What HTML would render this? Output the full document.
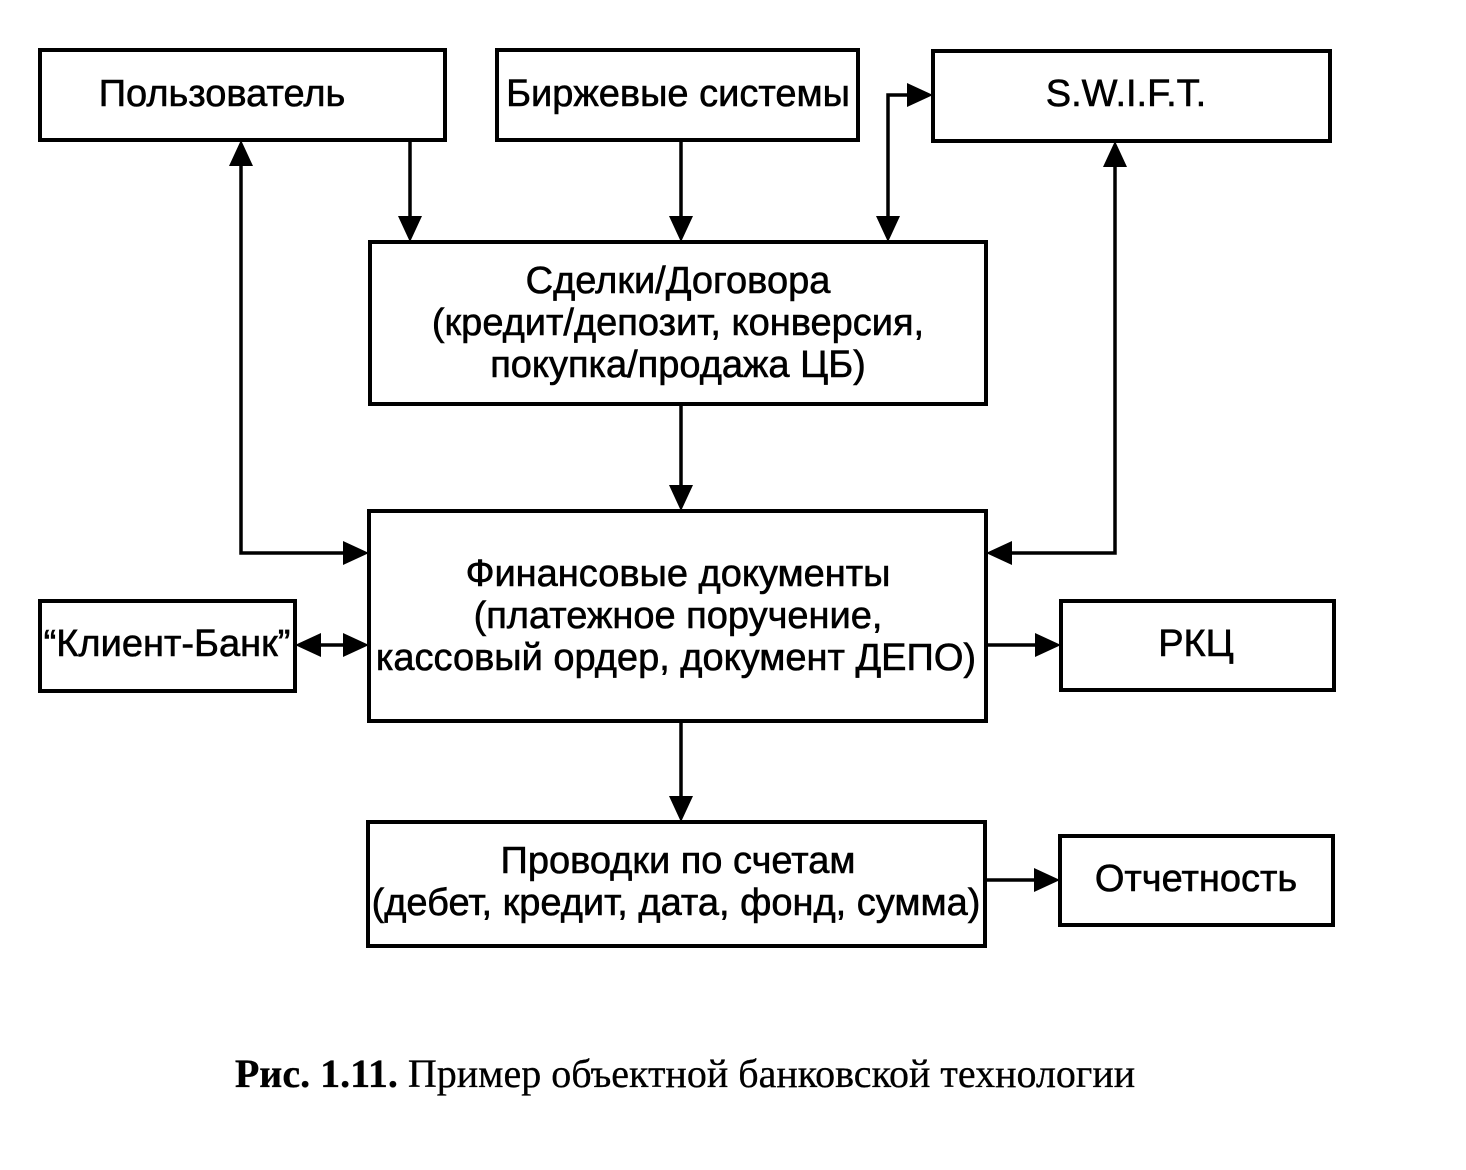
<!DOCTYPE html>
<html><head><meta charset="utf-8"><style>
html,body{margin:0;padding:0;background:#fff;}
body{width:1466px;height:1170px;position:relative;overflow:hidden;}
svg{position:absolute;left:0;top:0;}
text{font-family:"Liberation Sans","DejaVu Sans",sans-serif;font-size:38px;fill:#000;stroke:#000;stroke-width:0.6;}
.cap{font-family:"Liberation Serif",serif;font-size:40px;stroke-width:0.3;}
</style></head><body>
<svg width="1466" height="1170" viewBox="0 0 1466 1170">
<g fill="none" stroke="#000" stroke-width="4">
<rect x="40" y="50" width="405" height="90"/>
<rect x="497" y="50" width="361" height="90"/>
<rect x="933" y="51" width="397" height="90"/>
<rect x="370" y="242" width="616" height="162"/>
<rect x="369" y="511" width="617" height="210"/>
<rect x="40" y="601" width="255" height="90"/>
<rect x="1061" y="601" width="273" height="89"/>
<rect x="368" y="822" width="617" height="124"/>
<rect x="1060" y="836" width="273" height="89"/>
</g>
<g stroke="#000" stroke-width="3.5" fill="none">
<line x1="410" y1="140" x2="410" y2="218"/>
<line x1="681" y1="140" x2="681" y2="218"/>
<polyline points="888,218 888,95 910,95"/>
<polyline points="241,165 241,553 345,553"/>
<polyline points="1115,166 1115,553 1010,553"/>
<line x1="681" y1="404" x2="681" y2="487"/>
<line x1="320" y1="645" x2="345" y2="645"/>
<line x1="986" y1="645" x2="1037" y2="645"/>
<line x1="681" y1="721" x2="681" y2="798"/>
<line x1="985" y1="880" x2="1036" y2="880"/>
</g>
<g fill="#000">
<polygon points="398,216 422,216 410,242"/>
<polygon points="669,216 693,216 681,242"/>
<polygon points="876,216 900,216 888,242"/>
<polygon points="907,83 907,107 933,95"/>
<polygon points="229,166 253,166 241,140"/>
<polygon points="343,541 343,565 369,553"/>
<polygon points="1103,167 1127,167 1115,141"/>
<polygon points="1012,541 1012,565 986,553"/>
<polygon points="669,485 693,485 681,511"/>
<polygon points="343,633 343,657 369,645"/>
<polygon points="321,633 321,657 295,645"/>
<polygon points="1035,633 1035,657 1061,645"/>
<polygon points="669,796 693,796 681,822"/>
<polygon points="1034,868 1034,892 1060,880"/>
</g>
<g text-anchor="middle">
<text x="222" y="106">Пользователь</text>
<text x="678" y="106">Биржевые системы</text>
<text x="1126" y="106">S.W.I.F.T.</text>
<text x="678" y="293">Сделки/Договора</text>
<text x="678" y="335">(кредит/депозит, конверсия,</text>
<text x="678" y="377">покупка/продажа ЦБ)</text>
<text x="678" y="586">Финансовые документы</text>
<text x="678" y="628">(платежное поручение,</text>
<text x="676" y="670">кассовый ордер, документ ДЕПО)</text>
<text x="167" y="656">“Клиент-Банк”</text>
<text x="1196" y="656">РКЦ</text>
<text x="678" y="873">Проводки по счетам</text>
<text x="676" y="915">(дебет, кредит, дата, фонд, сумма)</text>
<text x="1196" y="891">Отчетность</text>
<text class="cap" x="685" y="1087"><tspan font-weight="bold">Рис. 1.11.</tspan> Пример объектной банковской технологии</text>
</g>
</svg>
</body></html>
